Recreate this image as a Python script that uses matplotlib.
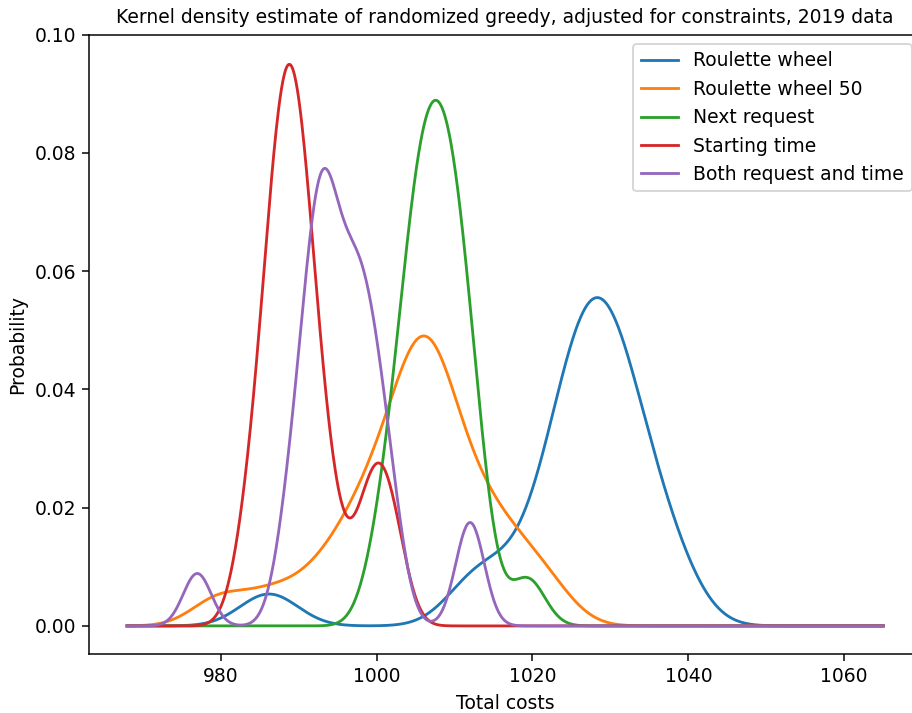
import numpy as np
import matplotlib
matplotlib.use("Agg")
import matplotlib.pyplot as plt

# Total costs of the randomized greedy runs (2019 data), one list per selection rule
roulette_wheel = [986.2, 1012.0, 1015.8, 1020.8, 1022.5, 1023.7, 1025.2, 1025.5, 1026.6, 1027.3,
                  1027.9, 1028.7, 1029.3, 1030.1, 1031.2, 1031.7, 1032.8, 1034.4, 1036.1, 1038.8]
roulette_wheel_50 = [979.8, 986.3, 991.7, 995.0, 997.2, 998.9, 1000.2, 1001.3, 1002.9, 1004.3,
                     1004.4, 1005.1, 1005.7, 1006.3, 1006.9, 1007.4, 1008.1, 1008.3, 1010.3, 1011.5,
                     1012.9, 1014.7, 1016.7, 1019.1, 1022.4]
next_request = [1000.2, 1002.0, 1003.0, 1003.8, 1004.4, 1004.9, 1005.5, 1005.9, 1006.2, 1006.6,
                1007.0, 1007.8, 1008.3, 1008.7, 1008.9, 1009.4, 1009.9, 1010.4, 1011.0, 1011.7,
                1012.3, 1013.5, 1019.4]
starting_time = [983.4, 985.4, 986.4, 986.9, 987.4, 988.1, 988.9, 988.9, 989.7, 989.9,
                 990.9, 991.4, 992.4, 994.4, 998.5, 1000.3, 1002.1]
both_request_time = [977.0, 988.2, 989.7, 990.6, 991.2, 991.8, 992.3, 992.8, 993.2, 993.6,
                     993.7, 994.3, 995.2, 995.8, 996.4, 997.0, 997.6, 998.2, 998.8, 999.4,
                     1000.2, 1001.1, 1002.4, 1011.7, 1012.3]

labels = ["Roulette wheel", "Roulette wheel 50", "Next request", "Starting time",
          "Both request and time"]
series = [roulette_wheel, roulette_wheel_50, next_request, starting_time, both_request_time]
bandwidths = [3.7, 3.5, 2.2, 2.0, 1.8]

x_range = (968, 1065)


def gaussian_kde(samples, bw, grid):
    s = np.asarray(samples, dtype=float)[:, None]
    z = (grid[None, :] - s) / bw
    return np.exp(-0.5 * z ** 2).sum(axis=0) / (len(samples) * bw * np.sqrt(2 * np.pi))


plt.rcParams["font.family"] = ["DejaVu Sans"]
plt.rcParams["font.size"] = 10

DPI = 135
W, H = 912, 713
fig = plt.figure(figsize=(W / DPI, H / DPI), dpi=DPI)
# the plot box runs slightly past the right edge of the canvas
ax = fig.add_axes([89.3 / W, 59 / H, 831.7 / W, 619.5 / H])

grid = np.linspace(x_range[0], x_range[1], 1000)
for samples, bw, label in zip(series, bandwidths, labels):
    ax.plot(grid, gaussian_kde(samples, bw, grid), lw=1.5, label=label)

ax.set_title("Kernel density estimate of randomized greedy, adjusted for constraints, 2019 data",
             fontsize=10)
ax.set_xlabel("Total costs")
ax.set_ylabel("Probability")
ax.set_xticks([980, 1000, 1020, 1040, 1060])
ax.set_yticks([0.0, 0.02, 0.04, 0.06, 0.08, 0.10])
ax.legend(loc="upper right")

fig.savefig("out.png", dpi=DPI)
